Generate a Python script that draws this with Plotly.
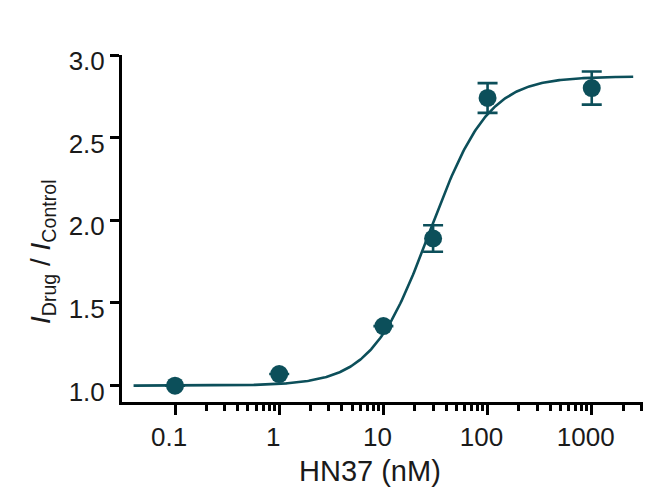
import numpy as np
import plotly.graph_objects as go

# ---- data ----
conc = [0.1, 1, 10, 30, 100, 1000]          # HN37 (nM)
ratio = [1.00, 1.07, 1.36, 1.89, 2.74, 2.80]  # I_Drug / I_Control
err = [None, None, None, 0.08, 0.09, 0.10]

# Hill fit parameters (fitted curve)
fit_bottom = 1.0
fit_top = 2.87
fit_ec50 = 28.0
fit_hill = 1.55
fit_xmin, fit_xmax = 0.04, 2500

x_tickvals = [0.1, 1, 10, 100, 1000]
x_ticktext = ["0.1", "1", "10", "100", "1000"]
x_minor = [m * 10.0 ** e for e in range(-1, 4) for m in range(2, 10)]
y_tickvals = [1.0, 1.5, 2.0, 2.5, 3.0]
y_ticktext = ["1.0", "1.5", "2.0", "2.5", "3.0"]

color = "#0c4f5a"

xf = np.logspace(np.log10(fit_xmin), np.log10(fit_xmax), 400)
yf = fit_bottom + (fit_top - fit_bottom) / (1 + (fit_ec50 / xf) ** fit_hill)

fig = go.Figure()
fig.add_trace(go.Scatter(x=xf, y=yf, mode="lines",
                         line=dict(color=color, width=2.6),
                         hoverinfo="skip", showlegend=False))
fig.add_trace(go.Scatter(x=conc, y=ratio, mode="markers",
                         marker=dict(color=color, size=18),
                         error_y=dict(type="data", array=err, visible=True,
                                      color=color, thickness=2.6, width=10),
                         cliponaxis=False, showlegend=False))

font_family = "Liberation Sans, Arial, sans-serif"

fig.update_layout(
    width=647, height=484,
    margin=dict(l=114, r=12, t=47, b=90),
    plot_bgcolor="white", paper_bgcolor="white",
    font=dict(family=font_family, color="#1a1a1a"),
    xaxis=dict(type="log", range=[-1.509, 3.492],
               showgrid=False, zeroline=False,
               showline=True, linecolor="black", linewidth=3,
               tickmode="array", tickvals=x_tickvals, ticktext=x_ticktext,
               ticks="outside", ticklen=10, tickwidth=3, tickcolor="black",
               tickfont=dict(size=26, family=font_family, color="#1a1a1a"),
               ticklabelshift=-6,
               minor=dict(tickmode="array", tickvals=x_minor, ticks="outside",
                          ticklen=6, tickwidth=2.5, tickcolor="black",
                          showgrid=False)),
    yaxis=dict(range=[0.901, 3.0],
               showgrid=False, zeroline=False,
               showline=True, linecolor="black", linewidth=3,
               tickmode="array", tickvals=y_tickvals, ticktext=y_ticktext,
               ticks="outside", ticklen=9, tickwidth=3, tickcolor="black",
               tickfont=dict(size=26, family=font_family, color="#1a1a1a"),
               ticklabelshift=6),
    annotations=[
        dict(text="<i>I</i><sub>Drug</sub> / <i>I</i><sub>Control</sub>",
             xref="paper", yref="paper", x=-0.1536, y=0.435,
             xanchor="center", yanchor="middle", textangle=-90,
             showarrow=False, font=dict(size=28, family=font_family, color="#1a1a1a")),
        dict(text="HN37 (nM)", xref="paper", yref="paper", x=0.476, y=-0.199,
             xanchor="center", yanchor="middle", showarrow=False,
             font=dict(size=29, family=font_family, color="#1a1a1a")),
    ],
)

fig.write_html("out.html")
